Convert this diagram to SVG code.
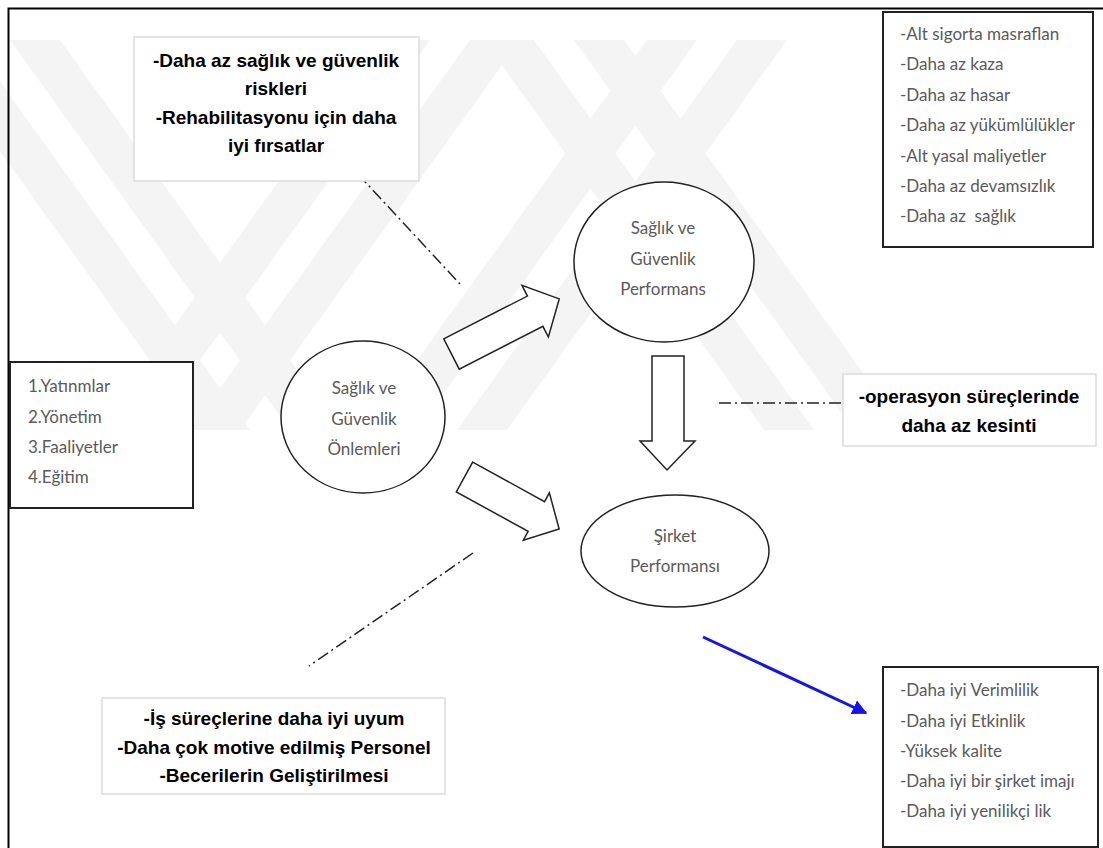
<svg xmlns="http://www.w3.org/2000/svg" width="1103" height="848" viewBox="0 0 1103 848">
  <style>
    .frame{fill:none;stroke:#000;stroke-width:2}
    .mark{fill:#f4f4f4}
    .note{fill:#fff;stroke:#dcdcdc;stroke-width:1.5}
    .list{fill:#fff;stroke:#222;stroke-width:2}
    .node{fill:#fff;stroke:#222;stroke-width:1.5}
    .block{fill:#fff;stroke:#222;stroke-width:1.5;stroke-linejoin:miter}
    .dashdot{fill:none;stroke:#222;stroke-width:1.5;stroke-dasharray:12 4 2 4}
    .bold{font-family:"Liberation Sans Narrow","Liberation Sans",Arial,sans-serif;font-weight:bold;font-size:19px;fill:#000;text-anchor:middle}
    .light{font-family:Lato,"Open Sans","Noto Sans",sans-serif;font-size:17px;fill:#5a5a5a}
    .mid{text-anchor:middle}
  </style>
  <defs>
    <marker id="blueHead" viewBox="0 0 10 10" refX="9" refY="5" markerWidth="5" markerHeight="5" orient="auto" markerUnits="strokeWidth">
      <path d="M0,0 L10,5 L0,10 Z" fill="#1414f0"/>
    </marker>
  </defs>

  <rect width="1103" height="848" fill="#fff"/>

  <!-- pale background emblem: crossing diagonal stripes, cut flat at the bottom -->
  <g id="background-emblem">
    <polygon class="mark" points="-80,40 -30,40 250,430 200,430"/>
    <polygon class="mark" points="10,40 60,40 340,430 290,430"/>
    <polygon class="mark" points="380,40 430,40 150,430 100,430"/>
    <polygon class="mark" points="470,40 520,40 240,430 190,430"/>
    <polygon class="mark" points="484,40 534,40 814,430 764,430"/>
    <polygon class="mark" points="574,40 624,40 904,430 854,430"/>
    <polygon class="mark" points="647,40 697,40 417,430 367,430"/>
    <polygon class="mark" points="737,40 787,40 507,430 457,430"/>
  </g>

  <rect class="frame" x="8.5" y="8.5" width="1110" height="860"/>

  <!-- connectors: block arrows, dash-dot leaders, blue arrow -->
  <g id="connectors">
    <path class="block" transform="translate(451.5,354) rotate(-27.1)" d="M0,-17 L94,-17 L94,-29 L121,0 L94,29 L94,17 L0,17 Z"/>
    <path class="block" transform="translate(464.5,477) rotate(28.8)" d="M0,-17 L82,-17 L82,-27 L108,0 L82,27 L82,17 L0,17 Z"/>
    <path class="block" d="M652,356 L684,356 L684,441 L695,441 L667,470 L640,441 L652,441 Z"/>
    <line class="dashdot" x1="343" y1="158" x2="460" y2="284"/>
    <line class="dashdot" x1="719" y1="403" x2="844" y2="403"/>
    <line class="dashdot" x1="473" y1="553" x2="309" y2="666"/>
    <line x1="703" y1="637" x2="866" y2="713" stroke="#1414f0" stroke-width="3" marker-end="url(#blueHead)"/>
  </g>

  <g id="note-risks">
    <rect class="note" x="134" y="37" width="285" height="144"/>
    <text class="bold" x="276" y="67">-Daha az sağlık ve güvenlik</text>
    <text class="bold" x="276" y="95">riskleri</text>
    <text class="bold" x="276" y="124">-Rehabilitasyonu için daha</text>
    <text class="bold" x="276" y="152">iyi fırsatlar</text>
  </g>

  <g id="list-costs">
    <rect class="list" x="883" y="12" width="210" height="235"/>
    <text class="light" x="900" y="40">-Alt sigorta masraflan</text>
    <text class="light" x="900" y="70">-Daha az kaza</text>
    <text class="light" x="900" y="101">-Daha az hasar</text>
    <text class="light" x="900" y="131">-Daha az yükümlülükler</text>
    <text class="light" x="900" y="162">-Alt yasal maliyetler</text>
    <text class="light" x="900" y="192">-Daha az devamsızlık</text>
    <text class="light" x="900" y="222" xml:space="preserve">-Daha az  sağlık</text>
  </g>

  <g id="list-inputs">
    <rect class="list" x="10" y="362" width="183" height="146"/>
    <text class="light" x="28" y="392">1.Yatınmlar</text>
    <text class="light" x="28" y="423">2.Yönetim</text>
    <text class="light" x="28" y="453">3.Faaliyetler</text>
    <text class="light" x="28" y="483">4.Eğitim</text>
  </g>

  <g id="node-measures">
    <ellipse class="node" cx="363" cy="417" rx="82" ry="76"/>
    <text class="light mid" x="364" y="394">Sağlık ve</text>
    <text class="light mid" x="364" y="425">Güvenlik</text>
    <text class="light mid" x="364" y="455">Önlemleri</text>
  </g>

  <g id="node-hs-performance">
    <ellipse class="node" cx="664" cy="262" rx="90" ry="80"/>
    <text class="light mid" x="663" y="234">Sağlık ve</text>
    <text class="light mid" x="663" y="265">Güvenlik</text>
    <text class="light mid" x="663" y="295">Performans</text>
  </g>

  <g id="node-company-performance">
    <ellipse class="node" cx="675" cy="551" rx="94" ry="56"/>
    <text class="light mid" x="675" y="542">Şirket</text>
    <text class="light mid" x="675" y="572">Performansı</text>
  </g>

  <g id="note-operations">
    <rect class="note" x="843" y="374" width="253" height="72"/>
    <text class="bold" x="969" y="403">-operasyon süreçlerinde</text>
    <text class="bold" x="969" y="432">daha az kesinti</text>
  </g>

  <g id="note-staff">
    <rect class="note" x="102" y="698" width="343" height="96"/>
    <text class="bold" x="274" y="725">-İş süreçlerine daha iyi uyum</text>
    <text class="bold" x="274" y="754">-Daha çok motive edilmiş Personel</text>
    <text class="bold" x="274" y="782">-Becerilerin Geliştirilmesi</text>
  </g>

  <g id="list-outcomes">
    <rect class="list" x="883" y="667" width="215" height="180"/>
    <text class="light" x="900" y="696">-Daha iyi Verimlilik</text>
    <text class="light" x="900" y="727">-Daha iyi Etkinlik</text>
    <text class="light" x="900" y="757">-Yüksek kalite</text>
    <text class="light" x="900" y="787">-Daha iyi bir şirket imajı</text>
    <text class="light" x="900" y="817">-Daha iyi yenilikçi lik</text>
  </g>
</svg>
